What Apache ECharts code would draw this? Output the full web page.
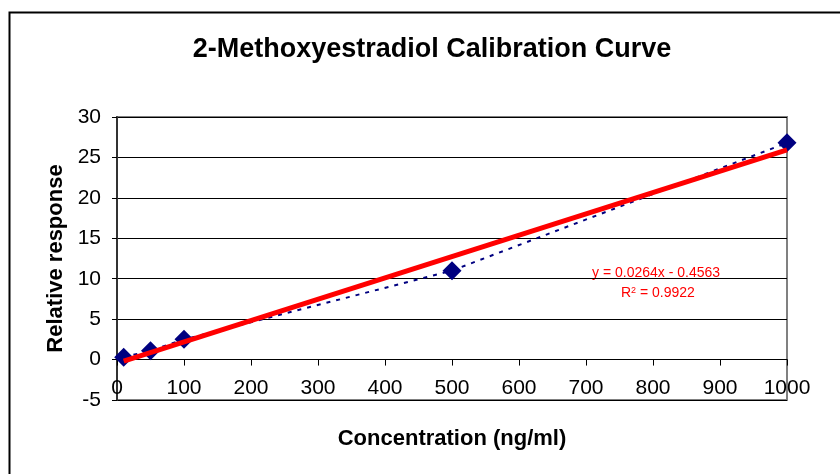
<!DOCTYPE html>
<html>
<head>
<meta charset="utf-8">
<script src="https://cdn.jsdelivr.net/npm/echarts@6/dist/echarts.min.js"></script>
<style>
  html, body { margin: 0; padding: 0; background: #fff; }
  #chart { width: 840px; height: 474px; }
</style>
</head>
<body>
<div id="chart"></div>
<script>
// measured points
const concentration = [10, 50, 100, 500, 1000]
const response = [0.3, 1.1, 2.5, 11.0, 26.8]
// linear trend line ends (y = 0.0264x - 0.4563)
const trendX = [10, 1000]
const trendY = [-0.19, 25.94]
const xTicks = [0, 100, 200, 300, 400, 500, 600, 700, 800, 900, 1000]

const chart = echarts.init(document.getElementById('chart'))

const option = {
  animation: false,
  backgroundColor: '#fff',
  textStyle: { fontFamily: 'Liberation Sans, Arial, sans-serif' },
  title: {
    text: '2-Methoxyestradiol Calibration Curve',
    left: 427,
    top: 31,
    textAlign: 'center',
    textStyle: { fontSize: 27, fontWeight: 'bold', color: '#000' },
  },
  grid: {
    left: 117,
    right: 53,
    top: 117,
    bottom: 74,
    outerBoundsMode: 'none',
    containLabel: false,
    show: true,
    borderColor: '#808080',
    borderWidth: 2,
  },
  xAxis: {
    type: 'value',
    min: xTicks[0],
    max: xTicks[xTicks.length - 1],
    interval: 100,
    name: 'Concentration (ng/ml)',
    nameLocation: 'middle',
    nameGap: 28,
    nameMoveOverlap: false,
    nameTextStyle: { fontSize: 22, fontWeight: 'bold', color: '#000' },
    axisLine: { show: true, onZero: true, lineStyle: { color: '#000', width: 1 } },
    axisTick: { show: true, inside: false, length: 6, lineStyle: { color: '#000' } },
    axisLabel: { fontSize: 21, color: '#000', margin: -22, formatter: (v) => String(v) },
    splitLine: { show: false },
  },
  yAxis: {
    type: 'value',
    min: -5,
    max: 30,
    interval: 5,
    name: 'Relative response',
    nameLocation: 'middle',
    nameGap: 50,
    nameMoveOverlap: false,
    nameTextStyle: { fontSize: 22, fontWeight: 'bold', color: '#000' },
    axisLine: { show: true, lineStyle: { color: '#333', width: 2 } },
    axisTick: { show: true, length: 5, lineStyle: { color: '#000' } },
    axisLabel: { fontSize: 21, color: '#000', margin: 16 },
    splitLine: { show: true, lineStyle: { color: '#000', width: 1 } },
  },
  series: [
    {
      name: 'data',
      type: 'line',
      data: concentration.map((x, i) => [x, response[i]]),
      symbol: 'diamond',
      symbolSize: 19,
      itemStyle: { color: '#000080' },
      lineStyle: { color: '#000080', width: 2, type: [4, 6] },
      z: 3,
    },
    {
      name: 'trend',
      type: 'line',
      data: trendX.map((x, i) => [x, trendY[i]]),
      symbol: 'none',
      lineStyle: { color: '#ff0000', width: 5 },
      z: 4,
    },
  ],
  graphic: [
    {
      type: 'rect',
      shape: { x: 9.5, y: 12.5, width: 900, height: 500 },
      style: { fill: 'none', stroke: '#000', lineWidth: 2 },
      silent: true,
    },
    {
      type: 'text',
      left: 592,
      top: 266,
      style: { text: 'y = 0.0264x - 0.4563', fill: '#ff0000', fontSize: 14, fontFamily: 'Liberation Sans, Arial, sans-serif' },
    },
    {
      type: 'text',
      left: 621,
      top: 286,
      style: {
        text: 'R{sup|2} = 0.9922',
        fill: '#ff0000',
        fontSize: 14,
        fontFamily: 'Liberation Sans, Arial, sans-serif',
        rich: { sup: { fontSize: 9, fill: '#ff0000', verticalAlign: 'top', padding: [0, 0, 6, 0] } },
      },
    },
  ],
}

chart.setOption(option)
</script>
</body>
</html>
